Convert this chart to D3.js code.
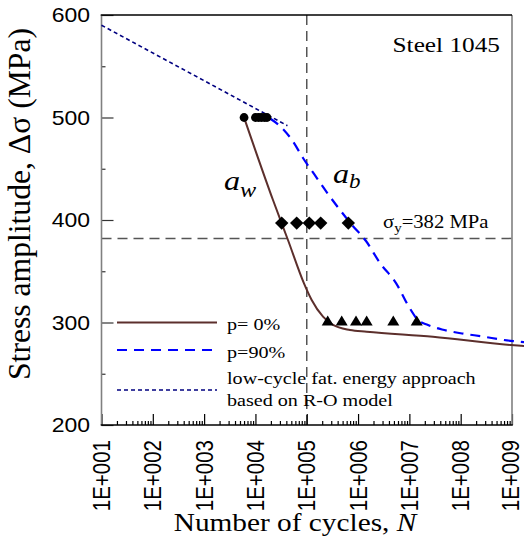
<!DOCTYPE html>
<html>
<head>
<meta charset="utf-8">
<script src="https://cdn.jsdelivr.net/npm/d3@7"></script>
<style>
  body { margin: 0; background: #fff; }
  svg { display: block; }
</style>
</head>
<body>
<script>
// axis ticks
const decades = [1e1, 1e2, 1e3, 1e4, 1e5, 1e6, 1e7, 1e8, 1e9];
const decadeLabels = ["1E+001", "1E+002", "1E+003", "1E+004", "1E+005", "1E+006", "1E+007", "1E+008", "1E+009"];
const stressTicks = [200, 300, 400, 500, 600];
const stressMinor = [250, 350, 450, 550];

// test points
const circleN = [6000, 10000, 11500, 13100, 15000, 16800];
const circleS = [500, 500, 500, 500, 500, 500];
const diamondN = [32500, 63700, 112000, 187000, 646000];
const diamondS = [397, 397, 397, 397, 397];
const triangleN = [256000, 480000, 912000, 1470000, 4860000, 1.39e7];
const triangleS = [302, 302, 302, 302, 302, 302];

// p = 0% curve
const p0N = [6000, 21980, 43050, 88300, 124700, 207500, 325100, 696600, 1.472e6, 2.884e7, 9.55e8, 1.714e9];
const p0S = [500, 419.5, 380.5, 338.2, 322, 305.7, 297.6, 292.7, 291, 286.1, 278, 277.1];

// p = 90% curve
const p90N = [19230, 32960, 51640, 84530, 138700, 259400, 444600, 762100, 1.429e6, 2.679e6, 5.495e6,
              9.84e6, 1.472e7, 2.307e7, 4.325e7, 1.062e8, 2.723e8, 6.982e8, 1.714e9];
const p90S = [499, 489.8, 478, 460.5, 444.9, 425.4, 409.8, 395.1, 379.5, 358, 338.5,
              315.1, 302.4, 297.6, 293.2, 289.3, 286.3, 282.9, 280.9];

// low-cycle fatigue energy approach (R-O model)
const roN = [10, 42000];
const roS = [590, 492];

const yieldStress = 382;
const refN = 1e5;

const W = 524, H = 551;
const plotL = 101.5, plotR = 512, plotT = 15, plotB = 425;
const SX = 1.15; // glyphs in the reference are a bit wide
const serif = '"Liberation Serif", "Times New Roman", serif';
const sans = '"Liberation Sans", Arial, sans-serif';

const svg = d3.select('body').append('svg')
    .attr('width', W)
    .attr('height', H);

const x = d3.scaleLog().domain([1e1, 1e9]).range([plotL, plotR]);
const y = d3.scaleLinear().domain([200, 600]).range([plotB, plotT]);

function place(sel, px, py, rot) {
    return sel.attr('transform', `translate(${px},${py}) scale(${SX},1)` + (rot ? ' rotate(-90)' : ''));
}

// reference lines
svg.append('line')
    .attr('x1', plotL).attr('x2', plotR)
    .attr('y1', y(yieldStress)).attr('y2', y(yieldStress))
    .attr('stroke', '#555').attr('stroke-width', 1.5)
    .attr('stroke-dasharray', '10,6');
svg.append('line')
    .attr('x1', x(refN)).attr('x2', x(refN))
    .attr('y1', plotT).attr('y2', plotB)
    .attr('stroke', '#555').attr('stroke-width', 1.5)
    .attr('stroke-dasharray', '10,6');

// axes
const minorN = [];
decades.slice(0, -1).forEach(d => { for (let k = 2; k <= 9; k++) minorN.push(d * k); });

const xAxis = svg.append('g').attr('transform', `translate(0,${plotB})`);
xAxis.call(d3.axisBottom(x).tickValues(decades).tickSize(-11).tickFormat(''));
xAxis.append('g').call(d3.axisBottom(x).tickValues(minorN).tickSize(-4).tickFormat(''));
xAxis.selectAll('.domain').remove();
xAxis.selectAll('line').attr('stroke', '#000').attr('stroke-width', 1.2);

const yAxis = svg.append('g').attr('transform', `translate(${plotL},0)`);
yAxis.call(d3.axisLeft(y).tickValues(stressTicks).tickSize(-12).tickFormat(''));
yAxis.append('g').call(d3.axisLeft(y).tickValues(stressMinor).tickSize(-4).tickFormat(''));
yAxis.selectAll('.domain').remove();
yAxis.selectAll('line').attr('stroke', '#333').attr('stroke-width', 1.2);

// frame
svg.append('line').attr('x1', plotL).attr('x2', plotL).attr('y1', plotT).attr('y2', plotB)
    .attr('stroke', '#808080').attr('stroke-width', 1.6);
svg.append('line').attr('x1', plotR).attr('x2', plotR).attr('y1', plotT).attr('y2', plotB)
    .attr('stroke', '#808080').attr('stroke-width', 1.6);
svg.append('line').attr('x1', plotL - 0.8).attr('x2', plotR).attr('y1', plotT).attr('y2', plotT)
    .attr('stroke', '#000').attr('stroke-width', 1.5);
svg.append('line').attr('x1', plotL - 0.8).attr('x2', plotR + 0.8).attr('y1', plotB).attr('y2', plotB)
    .attr('stroke', '#000').attr('stroke-width', 1.6);

// curves
const line = d3.line()
    .x(d => x(d[0]))
    .y(d => y(d[1]))
    .curve(d3.curveMonotoneX);

svg.append('path')
    .datum(d3.zip(roN, roS))
    .attr('d', line)
    .attr('fill', 'none')
    .attr('stroke', '#000080')
    .attr('stroke-width', 1.6)
    .attr('stroke-dasharray', '4,3');

svg.append('path')
    .datum(d3.zip(p0N, p0S))
    .attr('d', line)
    .attr('fill', 'none')
    .attr('stroke', '#5c2f2c')
    .attr('stroke-width', 2);

svg.append('path')
    .datum(d3.zip(p90N, p90S))
    .attr('d', line)
    .attr('fill', 'none')
    .attr('stroke', '#0000ff')
    .attr('stroke-width', 2.2)
    .attr('stroke-dasharray', '10,7');

// markers
svg.selectAll('circle.pt')
    .data(d3.zip(circleN, circleS))
    .enter()
    .append('circle')
    .attr('class', 'pt')
    .attr('cx', d => x(d[0]))
    .attr('cy', d => y(d[1]))
    .attr('r', 4.4)
    .attr('fill', '#000');

svg.selectAll('path.diamond')
    .data(d3.zip(diamondN, diamondS))
    .enter()
    .append('path')
    .attr('class', 'diamond')
    .attr('d', d => {
        const cx = x(d[0]), cy = y(d[1]);
        return `M${cx},${cy - 6.7}L${cx + 6.7},${cy}L${cx},${cy + 6.7}L${cx - 6.7},${cy}Z`;
    })
    .attr('fill', '#000');

svg.selectAll('path.tri')
    .data(d3.zip(triangleN, triangleS))
    .enter()
    .append('path')
    .attr('class', 'tri')
    .attr('d', d => {
        const cx = x(d[0]), cy = y(d[1]);
        return `M${cx - 6},${cy + 5}L${cx + 6},${cy + 5}L${cx},${cy - 5}Z`;
    })
    .attr('fill', '#000');

// tick labels
stressTicks.forEach(v => {
    place(svg.append('text'), 90, y(v), false)
        .attr('text-anchor', 'end')
        .attr('dy', '0.36em')
        .style('font-family', sans)
        .style('font-size', '20px')
        .text(v);
});

decades.forEach((v, i) => {
    place(svg.append('text'), Math.min(x(v), 511), 440, true)
        .attr('text-anchor', 'end')
        .attr('dy', '0.36em')
        .style('font-family', sans)
        .style('font-size', '20.5px')
        .text(decadeLabels[i]);
});

// axis titles
const xTitle = place(svg.append('text'), 295, 531, false)
    .attr('text-anchor', 'middle')
    .style('font-family', serif)
    .style('font-size', '25.5px');
xTitle.append('tspan').text('Number of cycles, ');
xTitle.append('tspan').style('font-style', 'italic').text('N');

place(svg.append('text'), 30, 204, true)
    .attr('text-anchor', 'middle')
    .attr('textLength', 352)
    .attr('lengthAdjust', 'spacingAndGlyphs')
    .style('font-family', serif)
    .style('font-size', '27px')
    .text('Stress amplitude, Δσ (MPa)');

// annotations
place(svg.append('text'), 500, 51.5, false)
    .attr('text-anchor', 'end')
    .style('font-family', serif)
    .style('font-size', '22px')
    .text('Steel 1045');

const sy = place(svg.append('text'), 383, 228, false)
    .style('font-family', serif)
    .style('font-size', '18px');
sy.append('tspan').text('σ');
sy.append('tspan').attr('dy', 4).style('font-size', '13px').text('y');
sy.append('tspan').attr('dy', -4).text('=382 MPa');

const aw = place(svg.append('text'), 224, 190, false)
    .style('font-family', serif)
    .style('font-style', 'italic')
    .style('font-size', '28px');
aw.append('tspan').text('a');
aw.append('tspan').attr('dy', 7).style('font-size', '21px').text('w');

const ab = place(svg.append('text'), 333, 183, false)
    .style('font-family', serif)
    .style('font-style', 'italic')
    .style('font-size', '28px');
ab.append('tspan').text('a');
ab.append('tspan').attr('dy', 5).style('font-size', '20px').text('b');

// legend
const legendY = [322.5, 350, 390];
const legendText = ['p= 0%', 'p=90%', 'low-cycle fat. energy approach'];
const legendStyle = [
    { stroke: '#5c2f2c', width: 2, dash: null },
    { stroke: '#0000ff', width: 2.2, dash: '10,7' },
    { stroke: '#000080', width: 1.6, dash: '4,3' }
];
legendY.forEach((ly, i) => {
    svg.append('line')
        .attr('x1', 117).attr('x2', 217)
        .attr('y1', ly).attr('y2', ly)
        .attr('stroke', legendStyle[i].stroke)
        .attr('stroke-width', legendStyle[i].width)
        .attr('stroke-dasharray', legendStyle[i].dash);
    place(svg.append('text'), 227, i < 2 ? ly + 7.5 : ly - 6, false)
        .style('font-family', serif)
        .style('font-size', '17.5px')
        .text(legendText[i]);
});
place(svg.append('text'), 227, 405.5, false)
    .style('font-family', serif)
    .style('font-size', '17.5px')
    .text('based on R-O model');
</script>
</body>
</html>
